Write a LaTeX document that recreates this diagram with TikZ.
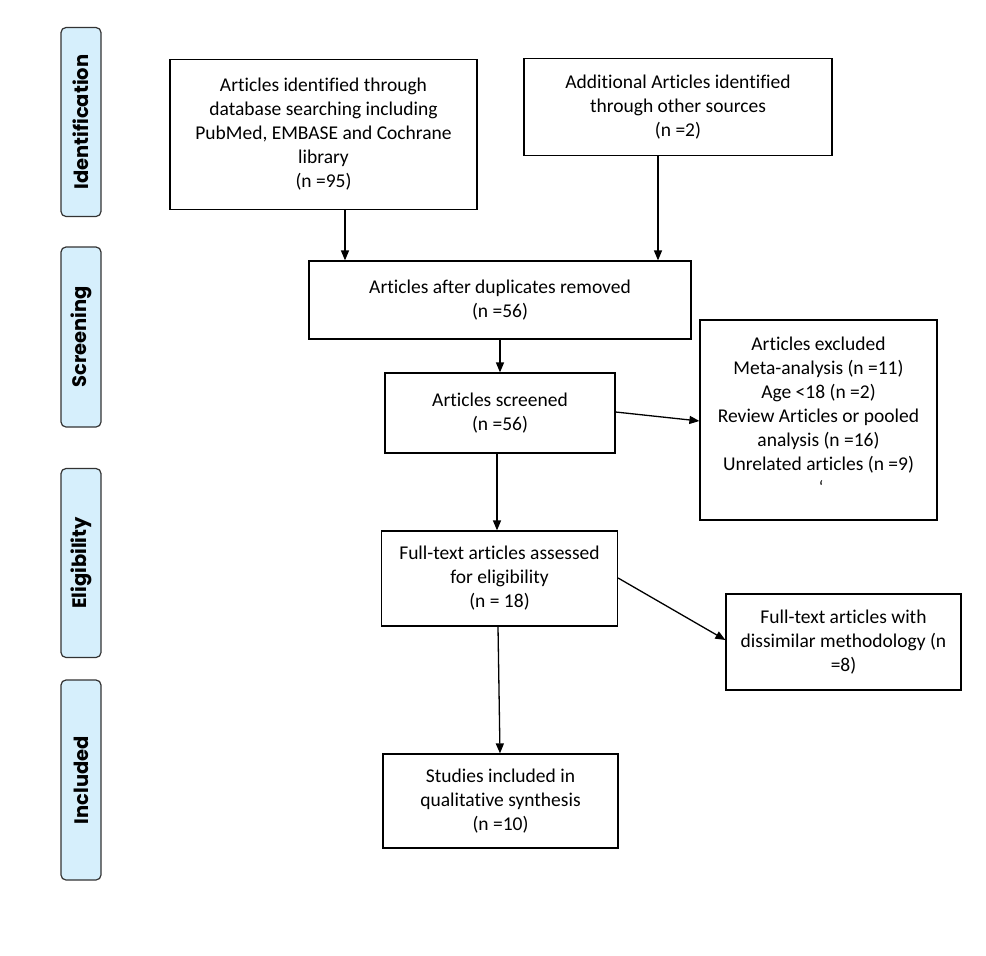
\documentclass[tikz,border=0pt]{standalone}
\usepackage{fontspec}
\setmainfont[Ligatures=NoCommon]{Carlito}
\newfontfamily\sidefont{Poppins}
\usetikzlibrary{arrows.meta}
\definecolor{sideblue}{HTML}{D6EFFC}
\begin{document}
\begin{tikzpicture}[x=1pt,y=-1pt,
  box/.style={draw=black,line width=1.2pt,align=center,inner sep=0pt,
    font=\fontsize{19.5}{24}\selectfont},
  txt/.style={align=center,inner sep=0pt,font=\fontsize{19.5}{24}\selectfont},
  side/.style={draw=black!80,fill=sideblue,line width=1.2pt,rounded corners=5pt,
    minimum height=40pt,inner sep=0pt,font=\sidefont\bfseries\fontsize{19.5}{21}\selectfont},
  arr/.style={line width=1.3pt,-{Triangle[length=10pt,width=8pt]}}]
\useasboundingbox (0,0) rectangle (986,956);
% side labels
\node[side,minimum width=189pt,rotate=90] (sid) at (81,122) {Identification};
\node[side,minimum width=180pt,rotate=90] (ssc) at (81,337) {Screening};
\node[side,minimum width=189pt,rotate=90] (sel) at (81,563) {Eligibility};
\node[side,minimum width=200pt,rotate=90] (sin) at (81,780) {Included};
% boxes
\node[box,minimum width=307pt,minimum height=150pt] (a) at (323.5,134.5)
  {Articles identified through\\database searching including\\PubMed, EMBASE and Cochrane\\library\\(n =95)};
\node[box,minimum width=308pt,minimum height=97pt] (b) at (678,107)
  {Additional Articles identified\\through other sources\\(n =2)};
\node[box,minimum width=382pt,minimum height=78pt] (c) at (500,300)
  {Articles after duplicates removed\\(n =56)};
\node[box,minimum width=230pt,minimum height=80pt] (d) at (500,413)
  {Articles screened\\(n =56)};
\node[box,minimum width=237pt,minimum height=200pt] (e) at (818.5,420) {};
\node[txt,anchor=north] (etext) at (818.5,337)
  {Articles excluded\\Meta-analysis (n =11)\\Age <18 (n =2)\\Review Articles or pooled\\analysis (n =16)\\Unrelated articles (n =9)};
\node[inner sep=0pt,font=\fontsize{18}{18}\selectfont] (emark) at (821,487) {‘};
\node[box,minimum width=236pt,minimum height=95pt] (f) at (499.5,578.5)
  {Full-text articles assessed\\for eligibility\\(n = 18)};
\node[box,minimum width=235pt,minimum height=96pt] (g) at (843.5,642)
  {Full-text articles with\\dissimilar methodology (n\\=8)};
\node[box,minimum width=235pt,minimum height=94pt] (h) at (500.5,801)
  {Studies included in\\qualitative synthesis\\(n =10)};
% connectors
\draw[arr] (a.south -| 345,0) -- (c.north -| 345,0);
\draw[arr] (b.south -| 658,0) -- (c.north -| 658,0);
\draw[arr] (c.south) -- (d.north);
\draw[arr] (d.east |- 0,412) -- (e.west |- 0,421);
\draw[arr] (d.south -| 497,0) -- (f.north -| 497,0);
\draw[arr] (f.east |- 0,578) -- (g.west |- 0,640);
\draw[arr] (f.south -| 498,0) -- (h.north -| 500,0);
\end{tikzpicture}
\end{document}
